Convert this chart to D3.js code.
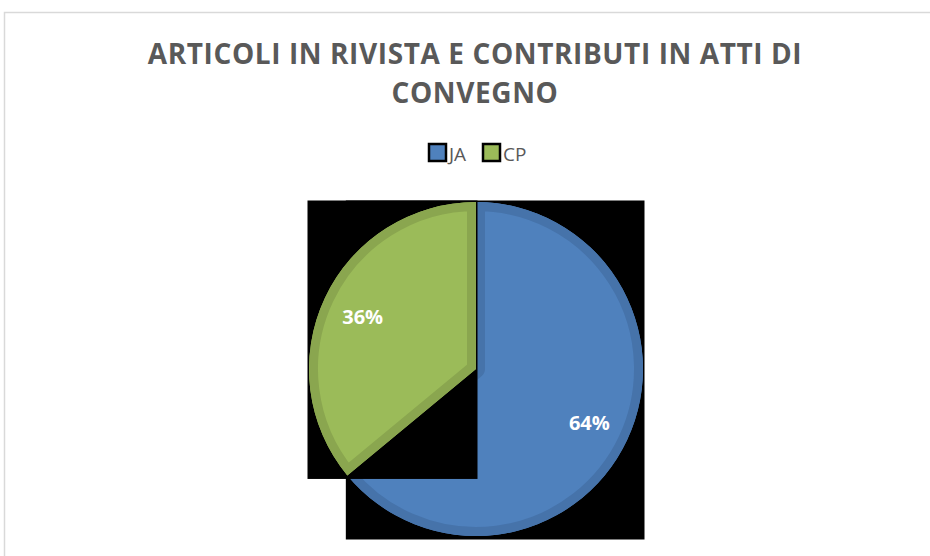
<!DOCTYPE html>
<html>
<head>
<meta charset="utf-8">
<script src="https://cdn.jsdelivr.net/npm/d3@7"></script>
<style>
  html, body { margin: 0; padding: 0; background: #fff; }
  svg { display: block; }
</style>
</head>
<body>
<svg id="chart" width="930" height="556"></svg>
<script>
// Share of journal articles (JA) and conference papers (CP)
const categories = ["JA", "CP"];
const values = [64, 36];
const valueLabels = ["64%", "36%"];
const titleLines = ["ARTICOLI IN RIVISTA E CONTRIBUTI IN ATTI DI", "CONVEGNO"];

const fills = ["#4f81bd", "#9bbb59"];
const rims  = ["#4673aa", "#8aa64f"];

const W = 930, H = 556;
const svg = d3.select("#chart");

// chart area frame
svg.append("rect")
  .attr("x", 4.5).attr("y", 12.5)
  .attr("width", W + 10).attr("height", H + 10)
  .attr("fill", "#fff")
  .attr("stroke", "#d9d9d9").attr("stroke-width", 1.5);

// title
svg.append("g").selectAll("text")
  .data(titleLines)
  .join("text")
  .attr("x", 475)
  .attr("y", (d, i) => 64 + i * 39)
  .attr("text-anchor", "middle")
  .attr("font-family", "'Open Sans', sans-serif")
  .attr("font-weight", 700)
  .attr("font-size", 28)
  .attr("letter-spacing", 0.6)
  .attr("fill", "#595959")
  .text(d => d);

// legend
const legend = svg.append("g").attr("transform", "translate(428,143)");
const legendX = [0, 54];
const items = legend.selectAll("g").data(categories).join("g")
  .attr("transform", (d, i) => `translate(${legendX[i]},0)`);
items.append("rect")
  .attr("x", 1).attr("y", 1).attr("width", 17).attr("height", 17)
  .attr("fill", (d, i) => fills[i])
  .attr("stroke", "#000").attr("stroke-width", 2.5);
items.append("text")
  .attr("x", 21).attr("y", 18)
  .attr("font-family", "'Open Sans', sans-serif")
  .attr("font-size", 19)
  .attr("fill", "#595959")
  .text(d => d);

// pie
const cx = 476, cy = 369, r = 167;
const pie = d3.pie().sort(null).value(d => d)(values);
const arc = d3.arc().innerRadius(0).outerRadius(r);

const defs = svg.append("defs");
const pieG = svg.append("g").attr("transform", `translate(${cx},${cy})`);

pie.forEach((p, i) => {
  const g = pieG.append("g");
  const bg = g.append("rect").attr("fill", "#000");
  const path = g.append("path").attr("d", arc(p)).attr("fill", fills[i]);

  // each slice sits on an opaque box filling its own bounds
  const b = path.node().getBBox();
  const pad = 1.5;
  bg.attr("x", b.x - pad).attr("y", b.y - pad)
    .attr("width", b.width + 2 * pad).attr("height", b.height + 2 * pad + 2);

  // darker inner rim along the slice edges
  const clipId = "clip-" + i;
  defs.append("clipPath").attr("id", clipId)
    .append("path").attr("d", arc(p));
  g.append("path")
    .attr("d", arc(p))
    .attr("fill", "none")
    .attr("stroke", rims[i])
    .attr("stroke-width", 18)
    .attr("stroke-linejoin", "round")
    .attr("clip-path", `url(#${clipId})`);
});

// percentage labels
const labelArc = d3.arc().innerRadius(r * 0.75).outerRadius(r * 0.75);
pieG.selectAll("text.val")
  .data(pie)
  .join("text")
  .attr("class", "val")
  .attr("x", d => labelArc.centroid(d)[0])
  .attr("y", d => labelArc.centroid(d)[1] + 8)
  .attr("text-anchor", "middle")
  .attr("font-family", "'Open Sans', sans-serif")
  .attr("font-weight", 700)
  .attr("font-size", 20)
  .attr("fill", "#fff")
  .text((d, i) => valueLabels[i]);
</script>
</body>
</html>
